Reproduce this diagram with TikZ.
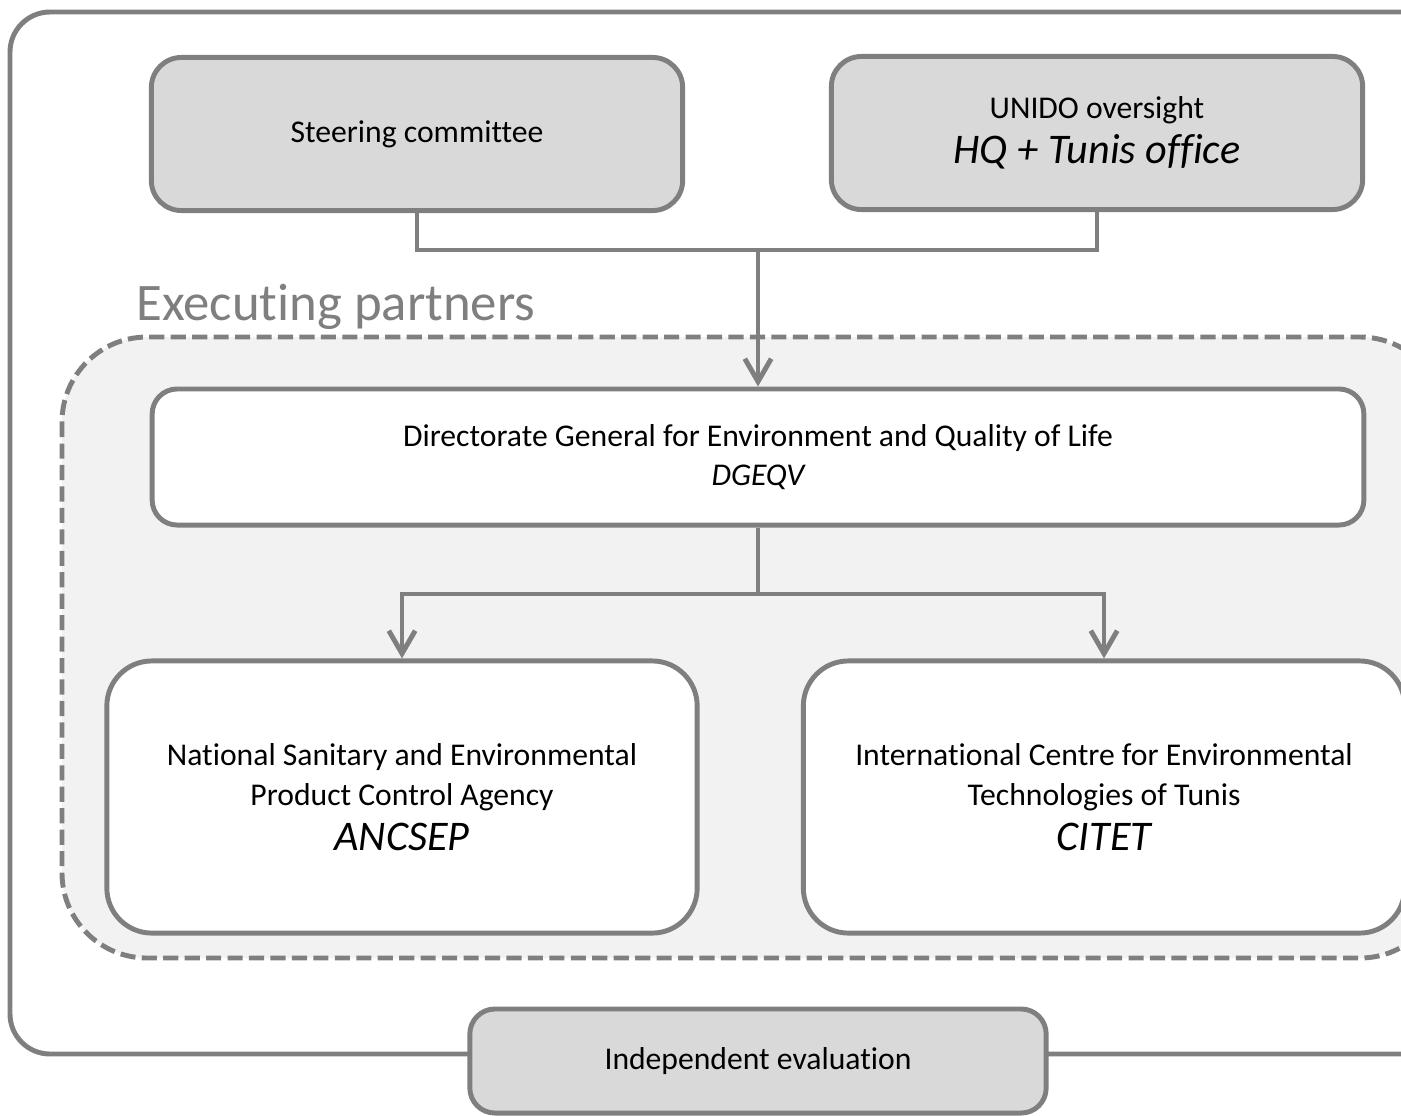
\documentclass[tikz,border=0pt]{standalone}
\usepackage{fontspec}
\setmainfont{Carlito}[Ligatures={NoCommon}]
\usepackage{tikz}
\usetikzlibrary{arrows.meta}
\definecolor{linegray}{HTML}{7F7F7F}
\definecolor{boxgray}{HTML}{D9D9D9}
\definecolor{zonegray}{HTML}{F2F2F2}

\begin{document}
\begin{tikzpicture}[x=0.01cm,y=-0.01cm,
  box/.style={draw=linegray, line width=1.4pt, rounded corners=0.3cm, align=center,
    inner sep=0pt, font=\fontsize{9}{11.3}\selectfont},
  grey box/.style={box, fill=boxgray},
  white box/.style={box, fill=white},
  link/.style={draw=linegray, line width=1.4pt},
  flow/.style={link, -{Straight Barb[length=6.5pt,width=7.5pt]}}]
\useasboundingbox (0,0) rectangle (1401,1115);
\clip (0,0) rectangle (1401,1115);

% Outer frame (runs off the right edge)
\draw[link, rounded corners=0.4cm] (10,12) rectangle (1470,1054);

% Executing partners zone
\draw[link, fill=zonegray, dash pattern=on 4.3pt off 1.8pt, rounded corners=0.85cm] (62,337) rectangle (1445,958);
\node[anchor=west, text=linegray, font=\fontsize{15}{18}\selectfont] (zone) at (124,307) {Executing partners};

% Top boxes
\node[grey box, minimum width=5.31cm, minimum height=1.53cm] (steer) at (417,134) {Steering committee};
\node[grey box, minimum width=5.31cm, minimum height=1.53cm] (unido) at (1097,133)
  {UNIDO oversight\\[1.5pt]{\fontsize{12}{14}\selectfont\itshape HQ + Tunis office}};

% Directorate
\node[white box, rounded corners=0.25cm, minimum width=12.11cm, minimum height=1.36cm] (dg) at (758,457)
  {Directorate General for Environment and Quality of Life\\{\itshape DGEQV}};

% Agencies
\node[white box, rounded corners=0.45cm, minimum width=5.90cm, minimum height=2.72cm] (anc) at (402,797)
  {National Sanitary and Environmental\\Product Control Agency\\[1.5pt]{\fontsize{12}{14}\selectfont\itshape ANCSEP}};
\node[white box, rounded corners=0.45cm, minimum width=6.01cm, minimum height=2.72cm] (cit) at (1104,797)
  {International Centre for Environmental\\Technologies of Tunis\\[1.5pt]{\fontsize{12}{14}\selectfont\itshape CITET}};

% Evaluation
\node[grey box, rounded corners=0.25cm, minimum width=5.76cm, minimum height=1.04cm] (eval) at (758,1061) {Independent evaluation};

% Connectors
\coordinate (join) at (758,250);
\coordinate (split) at (758,594);
\draw[link] (steer.south) |- (join) -| (unido.south);
\draw[flow] (join) -- (dg.north);
\draw[link] (dg.south) -- (split);
\draw[flow] (split) -| (anc.north);
\draw[flow] (split) -| (cit.north);
\end{tikzpicture}
\end{document}
